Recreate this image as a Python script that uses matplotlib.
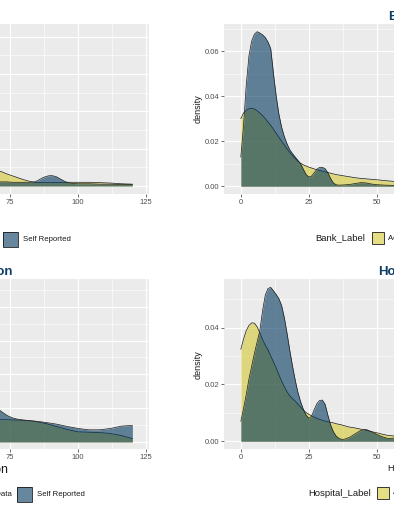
import matplotlib
matplotlib.use("Agg")
import matplotlib.pyplot as plt
from matplotlib.patches import Rectangle
from matplotlib.ticker import MultipleLocator, FormatStrFormatter

plt.rcParams['font.family'] = ['Liberation Sans', 'DejaVu Sans']

# ---- data (density estimates) ----
groups = ["Administrative Data", "Self Reported"]

school_x = [66, 68, 70, 72, 74, 76, 78, 80, 82, 84, 85, 86, 87, 88, 89, 90, 91, 92,
            93, 94, 95, 96, 97, 98, 100, 104, 108, 112, 116, 120]
school_admin = [0.0050, 0.0047, 0.0043, 0.0038, 0.0032, 0.0027, 0.0022, 0.0017, 0.0013,
                0.0010, 0.0010, 0.0009, 0.0009, 0.0009, 0.0009, 0.0009, 0.0009, 0.0009,
                0.0009, 0.0009, 0.0009, 0.0010, 0.0010, 0.0010, 0.0010, 0.0010, 0.0009,
                0.0008, 0.0006, 0.0005]
school_self = [0.0012, 0.0011, 0.0011, 0.0011, 0.0011, 0.0010, 0.0010, 0.0010, 0.0010,
               0.0011, 0.0014, 0.0018, 0.0022, 0.0025, 0.0027, 0.0028, 0.0027, 0.0025,
               0.0021, 0.0017, 0.0013, 0.0010, 0.0008, 0.0007, 0.0006, 0.0006, 0.0005,
               0.0005, 0.0004, 0.0004]

bank_x = [0, 1, 2, 3, 4, 5, 6, 7, 8, 9, 10, 11, 12, 13, 14, 15, 16, 17, 18, 19, 20,
          21, 22, 23, 24, 25, 26, 27, 28, 29, 30, 31, 32, 33, 34, 35, 36, 38, 40, 42,
          44, 46, 48, 50, 53, 56, 60, 70, 80, 90, 100, 110, 120]
bank_admin = [0.0300, 0.0325, 0.0337, 0.0344, 0.0346, 0.0343, 0.0335, 0.0325, 0.0313,
              0.0300, 0.0285, 0.0270, 0.0253, 0.0235, 0.0218, 0.0200, 0.0183, 0.0166,
              0.0150, 0.0136, 0.0123, 0.0111, 0.0102, 0.0095, 0.0090, 0.0085, 0.0081,
              0.0077, 0.0073, 0.0070, 0.0067, 0.0064, 0.0061, 0.0058, 0.0055, 0.0052,
              0.0050, 0.0046, 0.0042, 0.0038, 0.0035, 0.0033, 0.0031, 0.0029, 0.0025,
              0.0022, 0.0019, 0.0013, 0.0009, 0.0007, 0.0005, 0.0004, 0.0003]
bank_self = [0.0130, 0.0270, 0.0450, 0.0580, 0.0645, 0.0675, 0.0686, 0.0680, 0.0672,
             0.0660, 0.0640, 0.0610, 0.0500, 0.0400, 0.0320, 0.0262, 0.0220, 0.0188,
             0.0162, 0.0145, 0.0130, 0.0115, 0.0099, 0.0075, 0.0052, 0.0041, 0.0045,
             0.0060, 0.0076, 0.0084, 0.0084, 0.0078, 0.0060, 0.0035, 0.0015, 0.0007,
             0.0005, 0.0006, 0.0008, 0.0012, 0.0016, 0.0015, 0.0010, 0.0007, 0.0005,
             0.0004, 0.0004, 0.0003, 0.0003, 0.0003, 0.0003, 0.0003, 0.0003]

police_x = [66, 68, 70, 72, 74, 76, 78, 80, 84, 88, 92, 96, 100, 104, 108, 112, 116, 120]
police_admin = [0.0068, 0.0068, 0.0067, 0.0066, 0.0066, 0.0065, 0.0065, 0.0064, 0.0061,
                0.0055, 0.0046, 0.0037, 0.0030, 0.0029, 0.0028, 0.0025, 0.0019, 0.0010]
police_self = [0.0128, 0.0114, 0.0101, 0.0089, 0.0078, 0.0071, 0.0067, 0.0065, 0.0062,
               0.0058, 0.0053, 0.0046, 0.0040, 0.0036, 0.0036, 0.0040, 0.0047, 0.0049]

hosp_x = [0, 1, 2, 3, 4, 5, 6, 7, 8, 9, 10, 11, 12, 13, 14, 15, 16, 17, 18, 19, 20,
          21, 22, 23, 24, 25, 26, 27, 28, 29, 30, 31, 32, 33, 34, 35, 36, 37, 38, 40,
          42, 44, 46, 48, 50, 52, 54, 56, 58, 60, 70, 80, 90, 100, 110, 120]
hosp_admin = [0.0324, 0.0360, 0.0390, 0.0408, 0.0417, 0.0416, 0.0403, 0.0382, 0.0358,
              0.0338, 0.0322, 0.0300, 0.0280, 0.0258, 0.0234, 0.0212, 0.0192, 0.0174,
              0.0160, 0.0150, 0.0141, 0.0131, 0.0120, 0.0110, 0.0101, 0.0095, 0.0090,
              0.0085, 0.0081, 0.0077, 0.0074, 0.0071, 0.0069, 0.0067, 0.0065, 0.0062,
              0.0060, 0.0058, 0.0055, 0.0050, 0.0047, 0.0043, 0.0039, 0.0034, 0.0030,
              0.0025, 0.0021, 0.0019, 0.0019, 0.0018, 0.0014, 0.0011, 0.0009, 0.0007,
              0.0006, 0.0005]
hosp_self = [0.0071, 0.0115, 0.0165, 0.0220, 0.0265, 0.0310, 0.0350, 0.0390, 0.0460,
             0.0515, 0.0538, 0.0542, 0.0530, 0.0517, 0.0502, 0.0478, 0.0435, 0.0380,
             0.0320, 0.0265, 0.0215, 0.0172, 0.0139, 0.0112, 0.0092, 0.0081, 0.0088,
             0.0112, 0.0133, 0.0144, 0.0145, 0.0130, 0.0092, 0.0058, 0.0034, 0.0019,
             0.0011, 0.0007, 0.0007, 0.0014, 0.0026, 0.0038, 0.0042, 0.0034, 0.0024,
             0.0016, 0.0010, 0.0011, 0.0015, 0.0016, 0.0012, 0.0010, 0.0008, 0.0006,
             0.0005, 0.0004]

# ---- style ----
W, H = 394, 512
YELLOW = "#D4C832"
BLUE = "#00375C"
ALPHA = 0.6
LINE = "#1A1A1A"
TITLE_C = "#0E3D66"

fig = plt.figure(figsize=(W / 100, H / 100), dpi=100, facecolor="white")


def fx(px):
    return px / W


def fy(py):
    return 1 - py / H


def panel(left, top, right, bottom, ylim, ystep, title, xlabel, x, admin, selfrep,
          label_size=6.5):
    ax = fig.add_axes([fx(left), fy(bottom), (right - left) / W, (bottom - top) / H])
    ax.set_facecolor("#EBEBEB")
    for s in ax.spines.values():
        s.set_visible(False)
    ax.set_xlim(-6, 126)
    ax.set_ylim(*ylim)
    ax.xaxis.set_major_locator(MultipleLocator(25))
    ax.xaxis.set_minor_locator(MultipleLocator(12.5))
    ax.yaxis.set_major_locator(MultipleLocator(ystep))
    ax.yaxis.set_minor_locator(MultipleLocator(ystep / 2))
    ax.yaxis.set_major_formatter(FormatStrFormatter("%.2f"))
    ax.grid(which="major", color="white", lw=0.8)
    ax.grid(which="minor", color="white", lw=0.4)
    ax.set_axisbelow(True)
    ax.tick_params(which="major", length=2, width=0.5, color="#333333",
                   labelsize=5.5, labelcolor="#4D4D4D", pad=1.5)
    ax.tick_params(which="minor", length=0)

    ax.fill_between(x, admin, color=YELLOW, alpha=ALPHA, lw=0, zorder=2)
    ax.plot(x, admin, color=LINE, lw=0.5, zorder=3)
    ax.fill_between(x, selfrep, color=BLUE, alpha=ALPHA, lw=0, zorder=4)
    ax.plot(x, selfrep, color=LINE, lw=0.5, zorder=5)

    ax.set_title(title, fontsize=9.5, fontweight="bold", color=TITLE_C, pad=3)
    ax.set_xlabel(xlabel, fontsize=label_size, color="#1A1A1A", labelpad=2)
    ax.set_ylabel("density", fontsize=label_size, color="#1A1A1A", labelpad=2)
    return ax


def key(px, py, size, color):
    fig.add_artist(Rectangle((fx(px), fy(py + size)), size / W, size / H,
                             transform=fig.transFigure, facecolor=color, alpha=ALPHA,
                             edgecolor="none"))
    fig.add_artist(Rectangle((fx(px), fy(py + size)), size / W, size / H,
                             transform=fig.transFigure, facecolor="none",
                             edgecolor=LINE, lw=0.6))


panel(-210.3, 24, 148.7, 194, (-0.00214, 0.04343), 0.01, "School", "School",
      school_x, school_admin, school_self, label_size=9)
panel(224.5, 24, 583.5, 194, (-0.00343, 0.0720), 0.02, "Bank", "Bank",
      bank_x, bank_admin, bank_self)
panel(-210.3, 279.3, 148.7, 449.3, (-0.00216, 0.0481), 0.01, "Police Station",
      "Police Station", police_x, police_admin, police_self, label_size=9)
panel(224.5, 279.3, 583.5, 449.3, (-0.00282, 0.05704), 0.02, "Hospital", "Hospital",
      hosp_x, hosp_admin, hosp_self)

# ---- legends (bottom of each panel) ----
# left column: larger keys, small labels
for box_x, box_y in [(3, 232), (17, 487)]:
    key(box_x, box_y, 15, BLUE)
    fig.text(fx(box_x + 20), fy(box_y + 7.5), groups[1], fontsize=5.6,
             ha="left", va="center", color="#1A1A1A")
    fig.text(fx(box_x - 5), fy(box_y + 7.5), groups[0], fontsize=5.6,
             ha="right", va="center", color="#1A1A1A")
    key(box_x - 75, box_y, 15, YELLOW)

# right column
for title, tx, box_x, box_y in [("Bank_Label", 315, 372, 232), ("Hospital_Label", 308, 377, 487)]:
    fig.text(fx(tx), fy(box_y + 6), title, fontsize=6.8, ha="left", va="center",
             color="#1A1A1A")
    key(box_x, box_y, 12, YELLOW)
    fig.text(fx(box_x + 16), fy(box_y + 6), groups[0], fontsize=5.6, ha="left",
             va="center", color="#1A1A1A")

fig.savefig("out.png", dpi=100, facecolor="white")
